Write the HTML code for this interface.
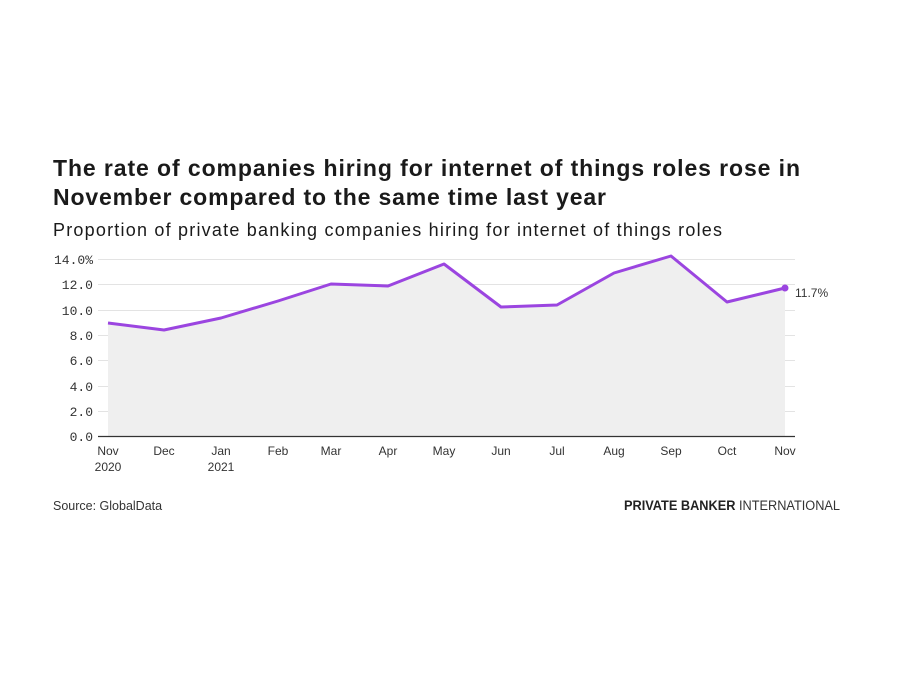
<!DOCTYPE html>
<html><head><meta charset="utf-8"><style>
html,body{margin:0;padding:0;background:#fff;width:900px;height:675px;overflow:hidden;font-family:"Liberation Sans",sans-serif;}
</style></head><body>
<svg width="900" height="675" xmlns="http://www.w3.org/2000/svg">
<text x="53" y="176" font-size="23" font-weight="bold" fill="#1a1a1a" textLength="747" lengthAdjust="spacing">The rate of companies hiring for internet of things roles rose in</text>
<text x="53" y="205" font-size="23" font-weight="bold" fill="#1a1a1a" textLength="553" lengthAdjust="spacing">November compared to the same time last year</text>
<text x="53" y="236" font-size="18" fill="#1a1a1a" textLength="669" lengthAdjust="spacing">Proportion of private banking companies hiring for internet of things roles</text>
<g stroke="#e3e3e3" stroke-width="1">
<line x1="98" x2="795" y1="259.5" y2="259.5"/>
<line x1="98" x2="795" y1="284.5" y2="284.5"/>
<line x1="98" x2="795" y1="310.5" y2="310.5"/>
<line x1="98" x2="795" y1="335.5" y2="335.5"/>
<line x1="98" x2="795" y1="360.5" y2="360.5"/>
<line x1="98" x2="795" y1="386.5" y2="386.5"/>
<line x1="98" x2="795" y1="411.5" y2="411.5"/>
</g>
<polygon fill="#efefef" points="108,437 108,323 164,330 221,318 278,301 331,284 388,286 444,264 501,307 557,305 614,273 671,256 727,302 785,288 785,437"/>
<line x1="98" x2="795" y1="436.5" y2="436.5" stroke="#333" stroke-width="1.3"/>
<polyline fill="none" stroke="#9b45e0" stroke-width="3" stroke-linejoin="round" points="108,323 164,330 221,318 278,301 331,284 388,286 444,264 501,307 557,305 614,273 671,256 727,302 785,288"/>
<circle cx="785" cy="288" r="3.5" fill="#9b45e0"/>
<text x="795" y="297" font-size="12" fill="#333">11.7%</text>
<g font-family="Liberation Mono" font-size="13" fill="#333" text-anchor="end">
<text x="93" y="264">14.0%</text>
<text x="93" y="289">12.0</text>
<text x="93" y="315">10.0</text>
<text x="93" y="340">8.0</text>
<text x="93" y="365">6.0</text>
<text x="93" y="391">4.0</text>
<text x="93" y="416">2.0</text>
<text x="93" y="441">0.0</text>
</g>
<g font-size="12" fill="#333" text-anchor="middle">
<text x="108" y="455">Nov</text><text x="108" y="471">2020</text>
<text x="164" y="455">Dec</text>
<text x="221" y="455">Jan</text><text x="221" y="471">2021</text>
<text x="278" y="455">Feb</text>
<text x="331" y="455">Mar</text>
<text x="388" y="455">Apr</text>
<text x="444" y="455">May</text>
<text x="501" y="455">Jun</text>
<text x="557" y="455">Jul</text>
<text x="614" y="455">Aug</text>
<text x="671" y="455">Sep</text>
<text x="727" y="455">Oct</text>
<text x="785" y="455">Nov</text>
</g>
<text x="53" y="510" font-size="12.5" fill="#333">Source: GlobalData</text>
<text x="624" y="510" font-size="13.5" fill="#333" textLength="216" lengthAdjust="spacingAndGlyphs"><tspan font-weight="bold" fill="#222">PRIVATE BANKER</tspan> INTERNATIONAL</text>
</svg>
</body></html>
